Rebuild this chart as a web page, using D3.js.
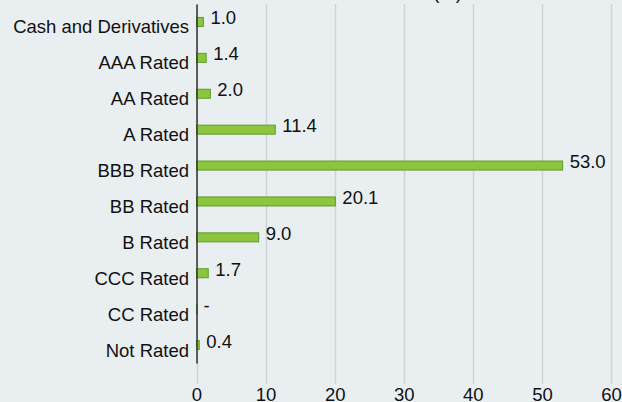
<!DOCTYPE html>
<html>
<head>
<meta charset="utf-8">
<script src="https://cdn.jsdelivr.net/npm/d3@7"></script>
<style>
  html, body { margin: 0; padding: 0; background: #e9eef1; }
  svg { display: block; }
  text { font-family: "Liberation Sans", Arial, sans-serif; fill: #111; }
</style>
</head>
<body>
<svg id="chart" width="622" height="402"></svg>
<script>
const categories = ["Cash and Derivatives", "AAA Rated", "AA Rated", "A Rated", "BBB Rated",
                    "BB Rated", "B Rated", "CCC Rated", "CC Rated", "Not Rated"];
const values = [1.0, 1.4, 2.0, 11.4, 53.0, 20.1, 9.0, 1.7, 0, 0.4];
const valueLabels = ["1.0", "1.4", "2.0", "11.4", "53.0", "20.1", "9.0", "1.7", "-", "0.4"];
const xTicks = [0, 10, 20, 30, 40, 50, 60];
const titleText = "Credit Breakdown (%)";

const svg = d3.select("#chart");
const W = 622, H = 402;
svg.append("rect").attr("width", W).attr("height", H).attr("fill", "#e9eef1");

const x = d3.scaleLinear().domain([0, 60]).range([196.5, 611]);
const y = d3.scaleBand().domain(categories).range([4, 363]).paddingInner(0).paddingOuter(0);
const barH = 9;
const fs = 18.5;

// title (mostly above the visible area)
svg.append("text").attr("x", 462).attr("y", -1).attr("text-anchor", "end")
  .style("font-size", fs + "px").text(titleText);

// gridlines
svg.append("g").selectAll("line").data(xTicks).join("line")
  .attr("x1", d => Math.round(x(d)) + 0.5).attr("x2", d => Math.round(x(d)) + 0.5)
  .attr("y1", 4).attr("y2", 384)
  .attr("stroke", "#cfd4d7").attr("stroke-width", 1.5);

// x axis tick labels
const xAxis = d3.axisBottom(x).tickValues(xTicks).tickSize(0).tickPadding(0).tickFormat(d3.format("d"));
const gx = svg.append("g").attr("transform", "translate(0,388)").call(xAxis);
gx.select(".domain").remove();
gx.selectAll("text").style("font-size", fs + "px").attr("dy", "0.71em").attr("y", 0).attr("fill", "#111");

// bars
const rows = categories.map((c, i) => ({ c, v: values[i], l: valueLabels[i] }));
svg.append("g").selectAll("rect").data(rows).join("rect")
  .attr("x", x(0))
  .attr("y", d => y(d.c) + y.bandwidth() / 2 - barH / 2)
  .attr("width", d => Math.max(x(d.v) - x(0), 0.5))
  .attr("height", barH)
  .attr("fill", "#8cc63f")
  .attr("stroke", "#5f9a2b")
  .attr("stroke-width", 1);

// y axis with category labels
const yAxis = d3.axisLeft(y).tickSize(0).tickPadding(0);
const gy = svg.append("g").attr("transform", "translate(196.5,0)").call(yAxis);
gy.select(".domain").attr("stroke", "#333").attr("stroke-width", 1.5);
gy.selectAll("text").style("font-size", fs + "px").attr("x", -7.5).attr("dy", null)
  .attr("y", 11.5).attr("fill", "#111");

// value labels
svg.append("g").selectAll("text").data(rows).join("text")
  .attr("x", d => x(d.v) + 7)
  .attr("y", d => y(d.c) + y.bandwidth() / 2 + 2.5)
  .style("font-size", fs + "px")
  .text(d => d.l);
</script>
</body>
</html>
